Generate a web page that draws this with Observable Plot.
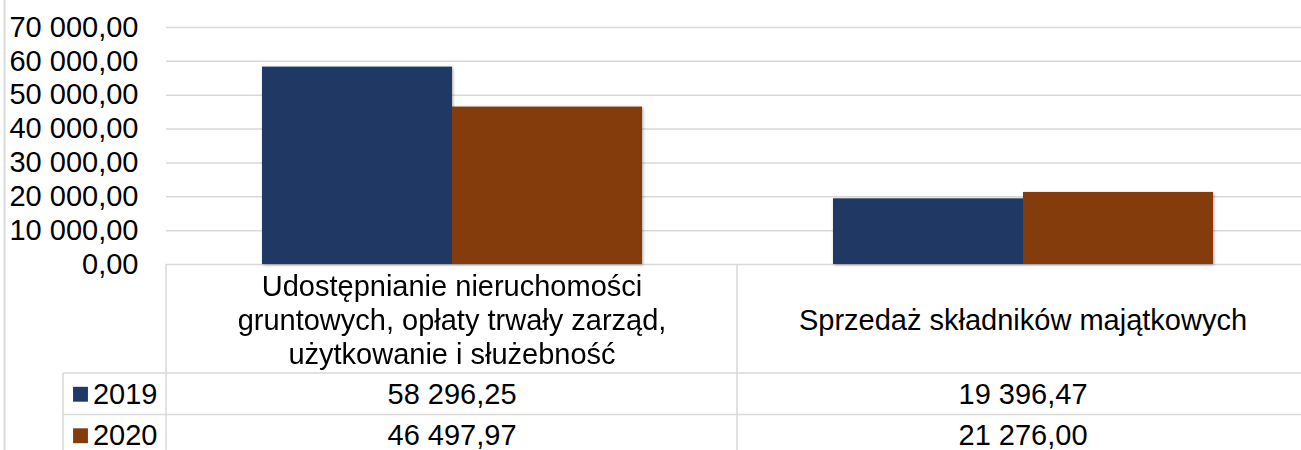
<!DOCTYPE html>
<html>
<head>
<meta charset="utf-8">
<script src="https://cdn.jsdelivr.net/npm/d3@7"></script>
<script src="https://cdn.jsdelivr.net/npm/@observablehq/plot@0.6"></script>
<style>
  html, body { margin: 0; padding: 0; background: #fff; overflow: hidden; }
  #chart { width: 1301px; height: 450px; overflow: hidden; }
</style>
</head>
<body>
<div id="chart"></div>
<script>
// ---- data ----
const categories = [
  "Udostępnianie nieruchomości gruntowych, opłaty trwały zarząd, użytkowanie i służebność",
  "Sprzedaż składników majątkowych"
];
const categoryLabels = [
  "Udostępnianie nieruchomości\ngruntowych, opłaty trwały zarząd,\nużytkowanie i służebność",
  "Sprzedaż składników majątkowych"
];
const years = ["2019", "2020"];
const values2019 = [58296.25, 19396.47];
const values2020 = [46497.97, 21276.00];
const yTicks = [0, 10000, 20000, 30000, 40000, 50000, 60000, 70000];
const colors = ["#203864", "#843C0C"];

// ---- derived tables ----
const seriesValues = [values2019, values2020];
const data = categories.flatMap((c, i) =>
  years.map((y, j) => ({category: c, year: y, value: seriesValues[j][i]})));
const headerRows = categories.map((c, i) => ({category: c, label: categoryLabels[i]}));

const locale = d3.formatLocale({decimal: ",", thousands: "\u00a0", grouping: [3], currency: ["", ""]});
const fmt = locale.format(",.2f");

const FONT = "'Liberation Sans', Arial, sans-serif";
const FS = 29;
const gridColor = "#d9d9d9";

// table layout (relative to the chart baseline)
const headerHeight = 109;
const rowHeight = 41.5;
const rowCenters = years.map((_, j) => headerHeight + rowHeight * j + rowHeight / 2);

const legendMarks = years.flatMap((yr, j) => [
  Plot.dot([yr], {
    fx: () => categories[0], fill: d => d, symbol: "square", r: 8.4,
    frameAnchor: "bottom-left", dx: -86, dy: rowCenters[j]
  }),
  Plot.text([yr], {
    fx: () => categories[0], text: d => d, textAnchor: "end", lineAnchor: "middle",
    frameAnchor: "bottom-left", dx: -9, dy: rowCenters[j], fontSize: FS
  })
]);

const valueMarks = years.map((yr, j) =>
  Plot.text(data.filter(d => d.year === yr), {
    fx: "category", text: d => fmt(d.value), lineAnchor: "middle",
    frameAnchor: "bottom", dy: rowCenters[j], fontSize: FS
  }));

const plot = Plot.plot({
  width: 1308,
  height: 450,
  marginTop: 27,
  marginBottom: 186,
  marginLeft: 166,
  marginRight: 0,
  style: {fontFamily: FONT, color: "#000", background: "#fff", maxWidth: "none", overflow: "hidden"},
  fx: {domain: categories, padding: 0, axis: null, label: null},
  x: {domain: years, paddingInner: 0, paddingOuter: 0.5, axis: null, label: null},
  y: {domain: [0, 70000], axis: null, label: null},
  color: {domain: years, range: colors},
  marks: [
    Plot.gridY(yTicks, {stroke: gridColor, strokeOpacity: 1, strokeWidth: 1.5}),
    Plot.barY(data, {fx: "category", x: "year", y: "value", fill: "year"}),
    Plot.axisY(yTicks, {tickFormat: fmt, tickSize: 0, tickPadding: 28, fontSize: FS, label: null}),
    Plot.text(headerRows, {
      fx: "category", text: "label", frameAnchor: "bottom", lineAnchor: "middle",
      dy: headerHeight / 2, lineHeight: 1.18, fontSize: FS
    }),
    ...valueMarks,
    ...legendMarks
  ]
});

document.getElementById("chart").appendChild(plot);

// bar shadow like the original
plot.querySelectorAll('g[aria-label="bar"]').forEach(g => {
  g.style.filter = "drop-shadow(1.5px 1.5px 1.5px rgba(0,0,0,0.35))";
});

// ---- data-table borders, derived from the plot's scales ----
const fxS = plot.scale("fx");
const yS = plot.scale("y");
const base = yS.range[0];
const right = fxS.range[1];
const legendLeft = fxS.range[0] - 103;
const svg = d3.select(plot);
const borders = svg.insert("g", ":first-child")
  .attr("stroke", gridColor).attr("stroke-width", 1.5).attr("fill", "none");
// horizontal row borders
for (let j = 0; j < years.length; j++) {
  const yy = base + headerHeight + rowHeight * j;
  borders.append("line").attr("x1", legendLeft).attr("x2", right).attr("y1", yy).attr("y2", yy);
}
// vertical borders at each category column start
for (const c of fxS.domain) {
  const xx = fxS.apply(c);
  borders.append("line").attr("x1", xx).attr("x2", xx).attr("y1", base).attr("y2", 450);
}
borders.append("line").attr("x1", legendLeft).attr("x2", legendLeft)
  .attr("y1", base + headerHeight).attr("y2", 450);
// outer chart border at the left
borders.append("line").attr("x1", 4.5).attr("x2", 4.5).attr("y1", 0).attr("y2", 450)
  .attr("stroke-width", 2);
</script>
</body>
</html>
